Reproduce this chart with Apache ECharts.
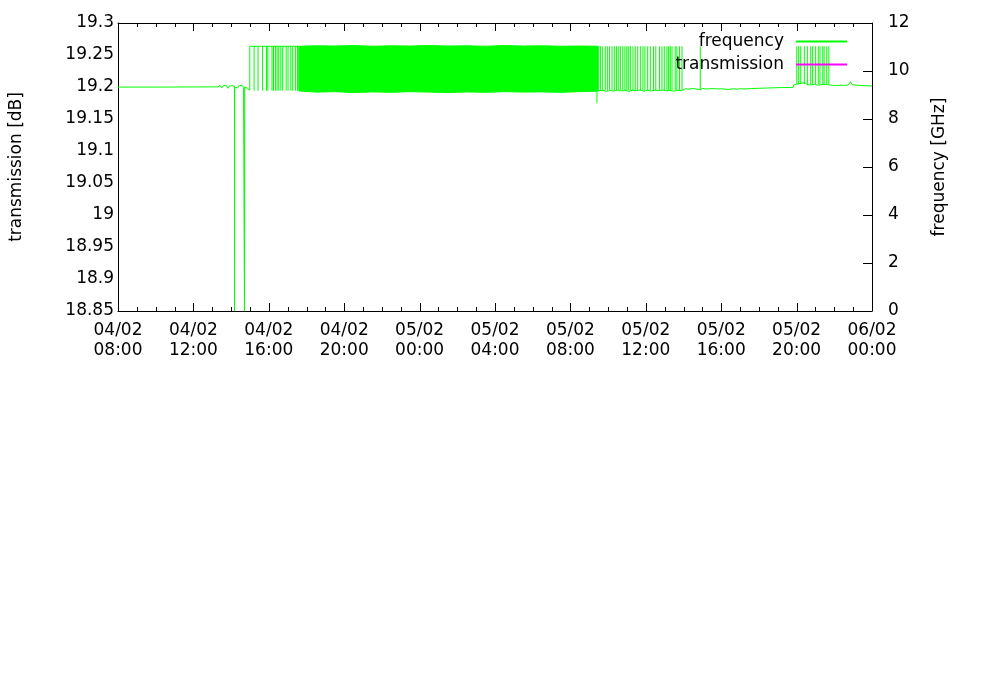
<!DOCTYPE html>
<html><head><meta charset="utf-8">
<script src="https://cdn.jsdelivr.net/npm/echarts@6/dist/echarts.min.js"></script>
<style>html,body{margin:0;padding:0;background:#fff}#c{width:1000px;height:700px}</style>
</head><body><div id="c"></div>
<script>
// x values: hours since 04/02 00:00 ; frequency values in GHz (right axis)
const xTickLabels = ['04/02\n08:00','04/02\n12:00','04/02\n16:00','04/02\n20:00','05/02\n00:00','05/02\n04:00','05/02\n08:00','05/02\n12:00','05/02\n16:00','05/02\n20:00','06/02\n00:00'];
const y2Ticks = [2,4,6,8,10];

// trace before the dense switching period
const traceA = [
  [8.00,9.33],[10.50,9.33],[13.30,9.34],[13.36,9.30],[13.42,9.40],[13.50,9.29],[13.58,9.38],[13.66,9.31],
  [13.74,9.41],[13.82,9.28],[13.90,9.37],[13.98,9.30],[14.06,9.39],[14.14,9.32],[14.18,9.36],[14.18,0],
  [14.19,9.33],[14.26,9.40],[14.34,9.29],[14.42,9.38],[14.50,9.31],[14.58,9.41],[14.66,9.30],[14.71,9.35],
  [14.71,0],[14.72,9.34],[14.80,9.38],[14.88,9.27],[14.96,9.22],[14.99,9.20],[14.99,11.03],[17.59,11.03]
];
// trace after the dense switching period
const traceB = [
  [33.48,9.17],[33.70,9.20],[33.90,9.15],[34.10,9.19],[34.30,9.16],[34.50,9.21],[34.70,9.17],[34.90,9.19],
  [35.10,9.15],[35.30,9.20],[35.50,9.18],[35.70,9.21],[35.90,9.16],[36.10,9.19],[36.30,9.17],[36.50,9.20],
  [36.70,9.18],[36.90,9.21],[37.10,9.17],[37.30,9.19],[37.50,9.16],[37.70,9.20],[37.90,9.18],[38.00,9.22],
  [38.10,9.26],[38.20,9.20],[38.30,9.25],[38.40,9.19],[38.50,9.27],[38.60,9.21],[38.70,9.24],[38.80,9.20],
  [38.89,9.23],[39.00,9.27],[39.10,9.21],[39.20,9.25],[39.30,9.19],[39.40,9.26],[39.50,9.22],[39.60,9.27],
  [39.70,9.21],[39.80,9.25],[39.90,9.20],[40.00,9.26],[40.10,9.22],[40.20,9.25],[40.40,9.23],[40.60,9.26],
  [40.80,9.24],[41.00,9.26],[41.30,9.25],[41.60,9.27],[42.00,9.28],[42.40,9.29],[42.80,9.30],[43.20,9.31],
  [43.60,9.31],[43.81,9.32],[43.85,9.42],[43.95,9.47],[44.05,9.46],[44.15,9.41],[44.25,9.49],[44.35,9.44],
  [44.45,9.52],[44.55,9.43],[44.65,9.48],[44.75,9.42],[44.85,9.50],[44.95,9.44],[45.05,9.47],[45.15,9.41],
  [45.25,9.49],[45.35,9.43],[45.45,9.51],[45.55,9.44],[45.65,9.47],[45.75,9.42],[45.85,9.45],[45.95,9.40],
  [46.05,9.44],[46.15,9.39],[46.25,9.46],[46.35,9.41],[46.45,9.45],[46.55,9.40],[46.65,9.48],[46.75,9.42],
  [46.85,9.55],[46.95,9.43],[47.05,9.50],[47.15,9.41],[47.25,9.47],[47.35,9.40],[47.45,9.46],[47.55,9.39],
  [47.65,9.44],[47.75,9.38],[47.85,9.42],[48.00,9.38]
];
// dense switching period: envelope of the rapidly toggling signal
const bandT  = [17.59,18.5,19.5,20.5,21.5,22.5,23.5,24.5,25.5,26.5,27.5,28.5,29.5,30.5,31.5,32.5,33.48];
const bandHi = [11.03,11.05,11.04,11.06,11.03,11.05,11.04,11.06,11.04,11.05,11.03,11.06,11.04,11.05,11.03,11.04,11.03];
const bandLo = [9.17,9.12,9.14,9.10,9.13,9.11,9.14,9.12,9.10,9.13,9.11,9.14,9.12,9.13,9.11,9.14,9.16];
// isolated switching events
const dips1 = [15.22,15.43,15.67,15.88,15.95,16.17,16.25,16.36,16.44,16.53,16.64,16.74,16.92,17.02,17.17,17.27,17.41,17.52];
const spikes2 = [33.59,33.69,33.85,33.96,34.07,34.21,34.33,34.44,34.54,34.65,34.78,34.89,34.99,35.07,35.18,35.32,35.44,35.57,
  35.71,35.85,35.95,36.10,36.24,36.41,36.53,36.73,36.86,36.98,37.12,37.21,37.30,37.39,37.56,37.65,37.79,37.92,38.89];
const spikes3 = [44.01,44.11,44.22,44.41,44.57,44.75,44.85,45.01,45.15,45.24,45.39,45.46,45.60,45.71];
const dropDown = [[33.41,8.66,9.15]];
const LOW1 = 9.18, LOW2 = 9.19, LOW3 = 9.45, HIGH = 11.03;
const transmission = [];

const GREEN = '#00ff00';
const FONT = 'DejaVu Sans';
const X_MIN = 8, X_MAX = 48, Y2_MIN = 0, Y2_MAX = 12;
const spikeData = dips1.map(t=>[t,LOW1,HIGH])
  .concat(spikes2.map(t=>[t,LOW2,HIGH]))
  .concat(spikes3.map(t=>[t,LOW3,HIGH]))
  .concat(dropDown);

// inward tick marks (major every 4 h, minor every hour) placed through the axis scale
const xTickData = [];
for (let h = X_MIN; h <= X_MAX; h++) xTickData.push([h, (h - X_MIN) % 4 === 0 ? 8 : 4]);
const y2TickData = y2Ticks.map(v => [X_MAX, v]);

function renderSpike(params, api){
  const a = api.coord([api.value(0), api.value(1)]);
  const b = api.coord([api.value(0), api.value(2)]);
  return {type:'line', shape:{x1:a[0],y1:a[1],x2:b[0],y2:b[1]}, style:{stroke:GREEN, lineWidth:1}};
}
function renderBand(params, api){
  const up = bandT.map((t,i)=>api.coord([t, bandHi[i]]));
  const dn = bandT.map((t,i)=>api.coord([t, bandLo[i]])).reverse();
  return {type:'polygon', shape:{points: up.concat(dn)}, style:{fill:GREEN, stroke:GREEN, lineWidth:1}};
}
function renderXTick(params, api){
  const v = api.value(0), len = api.value(1);
  const b = api.coord([v, Y2_MIN]), t = api.coord([v, Y2_MAX]);
  const x = Math.round(b[0]) + 0.5, yb = Math.round(b[1]), yt = Math.round(t[1]);
  return {type:'group', children:[
    {type:'line', shape:{x1:x, y1:yb, x2:x, y2:yb-len}, style:{stroke:'#000', lineWidth:1}},
    {type:'line', shape:{x1:x, y1:yt, x2:x, y2:yt+len}, style:{stroke:'#000', lineWidth:1}}
  ]};
}
function renderY2Tick(params, api){
  const p = api.coord([api.value(0), api.value(1)]);
  const x = Math.round(p[0]), y = Math.round(p[1]) + 0.5;
  return {type:'line', shape:{x1:x, y1:y, x2:x-9, y2:y}, style:{stroke:'#000', lineWidth:1}};
}

const lbl = {color:'#000', fontSize:17, fontFamily:FONT};
const axLine = {show:true, onZero:false, lineStyle:{color:'#000', width:1}};
const chart = echarts.init(document.getElementById('c'), null, {renderer:'canvas'});
chart.setOption({
  animation:false,
  backgroundColor:'#fff',
  textStyle:{fontFamily:FONT},
  grid:{left:117, right:128, top:23, bottom:389},
  legend:{
    data:['frequency','transmission'], orient:'vertical', right:152, top:33, align:'right',
    itemWidth:51, itemHeight:14, itemGap:6, padding:0,
    itemStyle:{opacity:0},
    textStyle:{color:'#000', fontSize:17, fontFamily:FONT, padding:[0,7,0,0]}
  },
  xAxis:[
    {type:'value', position:'bottom', min:X_MIN, max:X_MAX, interval:4,
     axisLine:axLine, axisTick:{show:false}, minorTick:{show:false},
     splitLine:{show:false}, minorSplitLine:{show:false},
     axisLabel:Object.assign({}, lbl, {margin:10, lineHeight:20,
        formatter:v=>xTickLabels[Math.round((v-X_MIN)/4)]})},
    {type:'value', position:'top', min:X_MIN, max:X_MAX, interval:4,
     axisLine:axLine, axisTick:{show:false}, minorTick:{show:false},
     splitLine:{show:false}, axisLabel:{show:false}}
  ],
  yAxis:[
    {type:'value', position:'left', min:18.85, max:19.3, interval:0.05,
     name:'transmission [dB]', nameLocation:'middle', nameRotate:90, nameGap:93,
     nameTextStyle:{color:'#000', fontSize:17, fontFamily:FONT},
     axisLine:axLine, axisTick:{show:false}, splitLine:{show:false},
     axisLabel:Object.assign({}, lbl, {margin:4, formatter:v=>String(Math.round(v*100)/100)})},
    {type:'value', position:'right', min:Y2_MIN, max:Y2_MAX, interval:2,
     name:'frequency [GHz]', nameLocation:'middle', nameRotate:90, nameGap:59,
     nameTextStyle:{color:'#000', fontSize:17, fontFamily:FONT},
     axisLine:axLine, axisTick:{show:false}, splitLine:{show:false},
     axisLabel:Object.assign({}, lbl, {margin:16})}
  ],
  series:[
    {name:'frequency', type:'line', xAxisIndex:0, yAxisIndex:1, data:traceA, symbol:'none', showSymbol:false,
     lineStyle:{color:GREEN, width:1}, itemStyle:{color:GREEN}},
    {name:'frequency', type:'custom', xAxisIndex:0, yAxisIndex:1, renderItem:renderBand,
     data:[[bandT[0], bandLo[0], bandHi[0]]], encode:{x:0, y:[1,2]}, silent:true, itemStyle:{color:GREEN}},
    {name:'frequency', type:'line', xAxisIndex:0, yAxisIndex:1, data:traceB, symbol:'none', showSymbol:false,
     lineStyle:{color:GREEN, width:1}, itemStyle:{color:GREEN}},
    {name:'frequency', type:'custom', xAxisIndex:0, yAxisIndex:1, renderItem:renderSpike,
     data:spikeData, encode:{x:0, y:[1,2]}, silent:true, itemStyle:{color:GREEN}},
    {name:'transmission', type:'line', xAxisIndex:0, yAxisIndex:0, data:transmission, symbol:'none', showSymbol:false,
     lineStyle:{color:'#ff00ff', width:1}, itemStyle:{color:'#ff00ff'}},
    {name:'xticks', type:'custom', xAxisIndex:0, yAxisIndex:1, renderItem:renderXTick, clip:false,
     data:xTickData, encode:{x:0, y:1}, silent:true, z:5},
    {name:'y2ticks', type:'custom', xAxisIndex:0, yAxisIndex:1, renderItem:renderY2Tick, clip:false,
     data:y2TickData, encode:{x:0, y:1}, silent:true, z:5}
  ]
});
</script></body></html>
